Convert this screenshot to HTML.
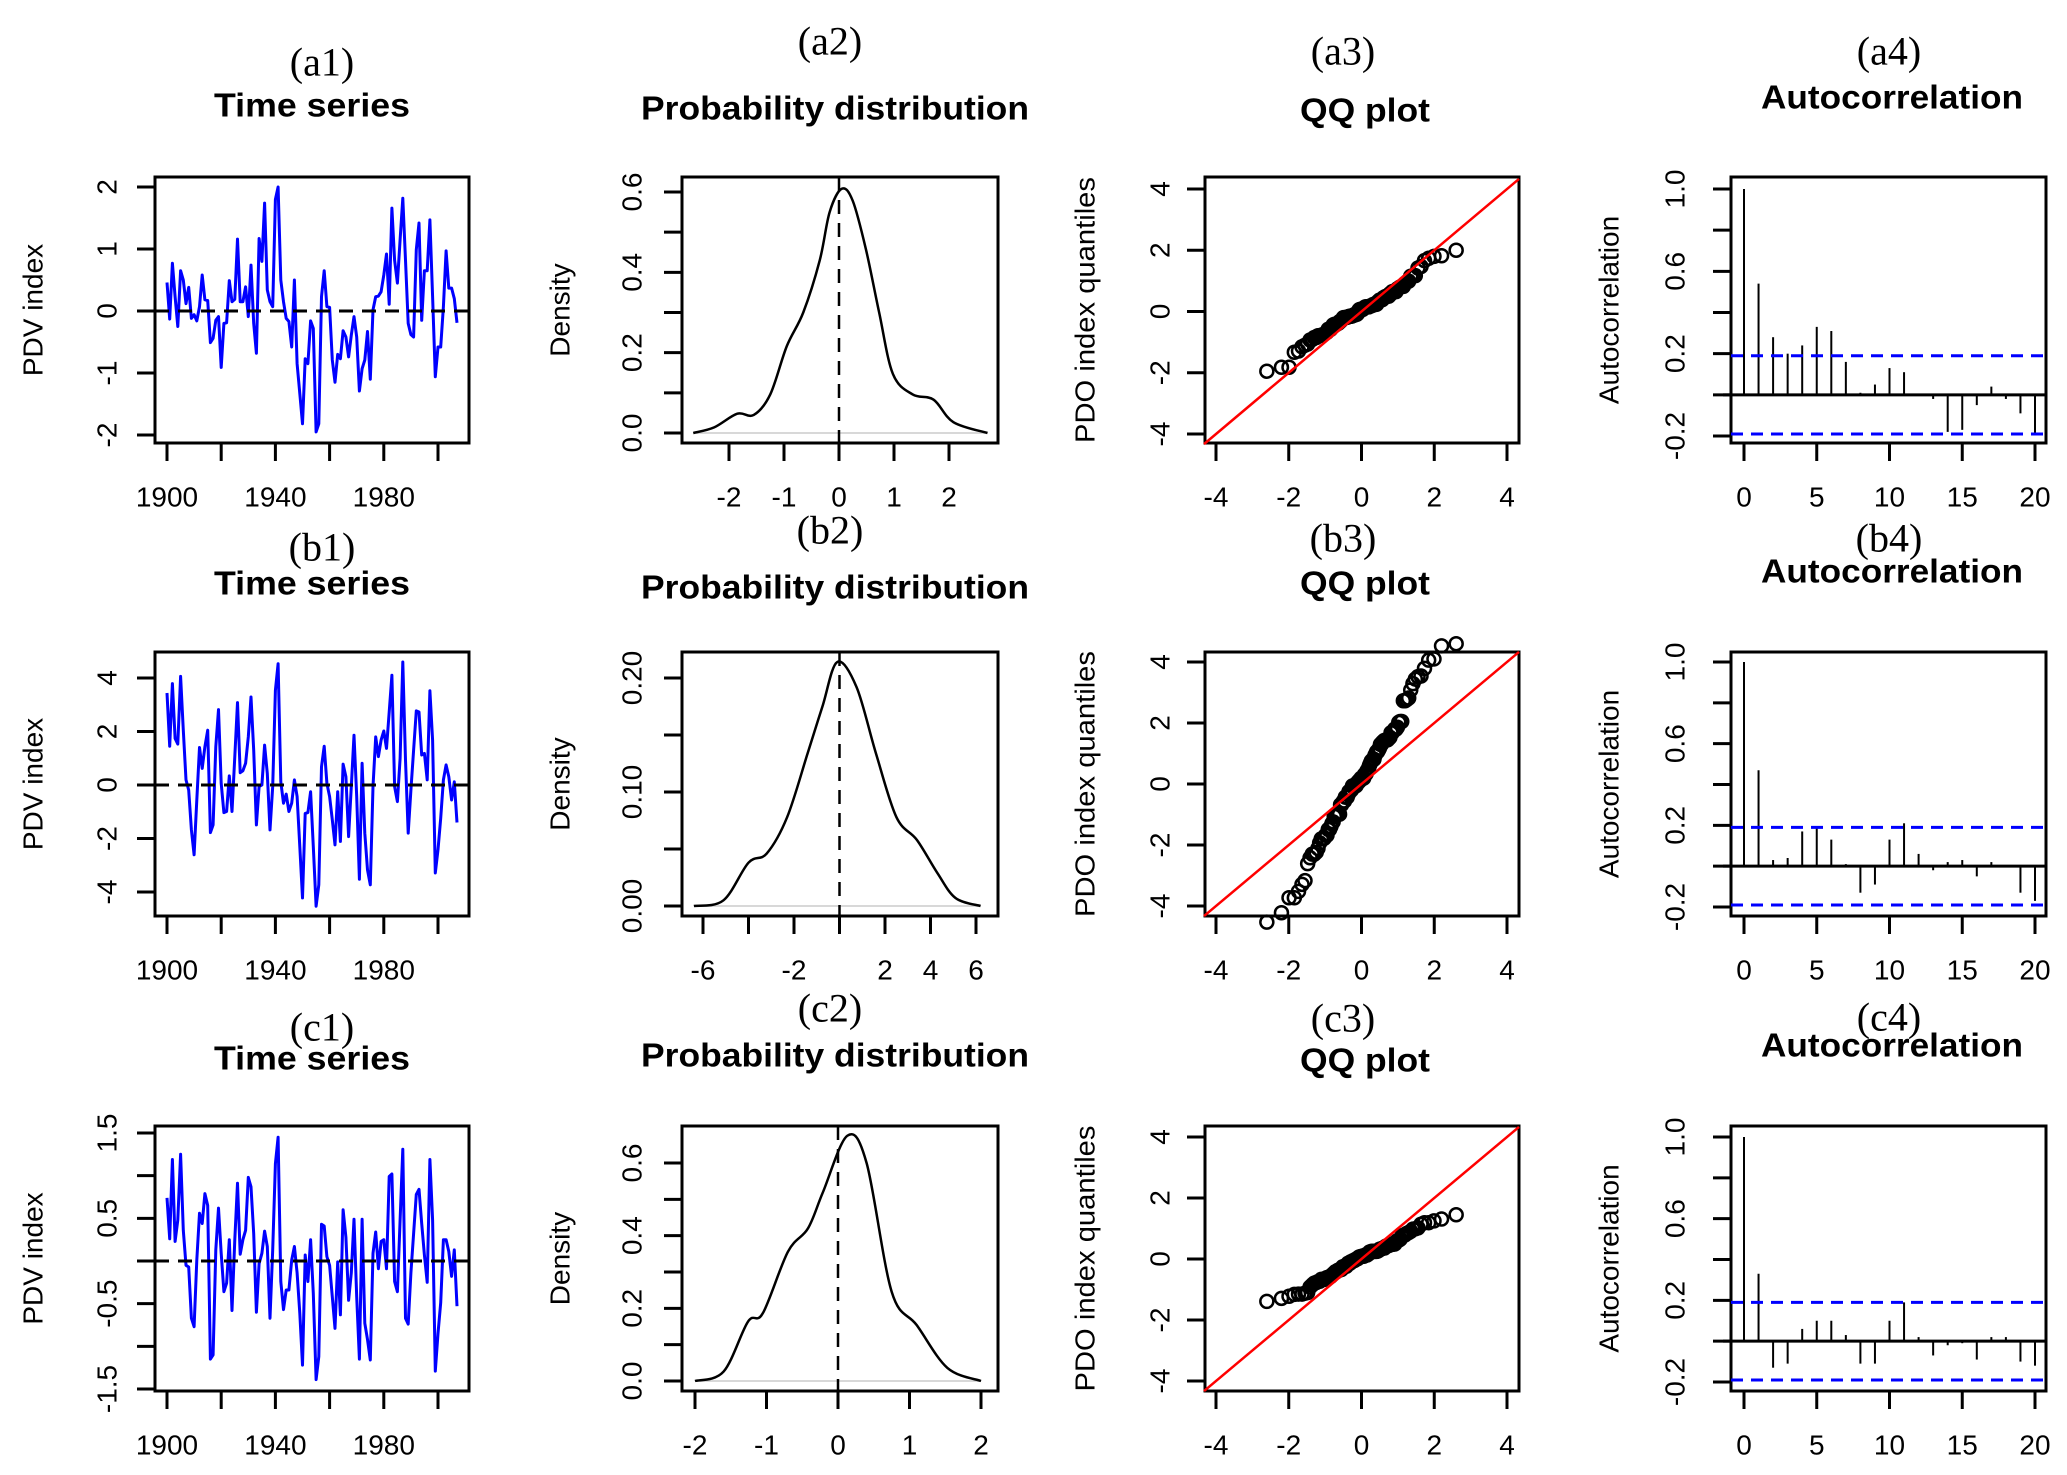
<!DOCTYPE html>
<html><head><meta charset="utf-8"><title>PDV index diagnostics</title>
<style>
html,body{margin:0;padding:0;background:#fff;}
svg{display:block;}
text{font-family:"Liberation Sans",Arial,sans-serif;fill:#000;}
.ser{font-family:"Liberation Serif","Times New Roman",serif;}
</style></head>
<body>
<svg id="fig" xmlns="http://www.w3.org/2000/svg" width="2067" height="1475" viewBox="0 0 2067 1475"></svg>
<script>
// ---------- data ----------
const startYear = 1900;
const seriesA = [0.46,-0.13,0.77,0.23,-0.25,0.65,0.50,0.12,0.38,-0.12,
-0.06,-0.16,0.07,0.58,0.18,0.17,-0.51,-0.44,-0.15,-0.09,
-0.91,-0.20,-0.19,0.49,0.15,0.19,1.16,0.15,0.15,0.39,
-0.09,0.74,-0.20,-0.68,1.17,0.80,1.74,0.34,0.15,0.07,
1.80,2.00,0.50,0.15,-0.12,-0.17,-0.58,0.50,-0.85,-1.33,
-1.82,-0.77,-0.85,-0.16,-0.28,-1.95,-1.82,0.23,0.65,0.07,
0.06,-0.79,-1.15,-0.70,-0.77,-0.32,-0.42,-0.74,-0.39,-0.09,
-0.42,-1.29,-0.93,-0.79,-0.33,-1.10,0.02,0.23,0.24,0.31,
0.58,0.92,0.11,1.66,0.82,0.45,1.15,1.82,0.82,-0.20,
-0.38,-0.42,0.99,1.42,-0.15,0.65,0.65,1.47,0.23,-1.06,
-0.58,-0.58,0.07,0.97,0.37,0.37,0.20,-0.19];
const seriesB = [3.44,1.45,3.79,1.74,1.53,4.06,2.05,0.19,-0.19,-1.68,
-2.61,-0.56,1.40,0.62,1.43,2.05,-1.78,-1.49,1.43,2.82,
0.06,-1.03,-0.99,0.34,-0.99,1.06,3.08,0.46,0.53,0.81,
1.80,3.29,1.30,-1.49,-0.06,0,1.49,0.43,-1.68,-0.06,
3.54,4.53,0.12,-0.68,-0.34,-0.99,-0.68,0.19,-0.43,-2.30,
-4.22,-1.06,-1.03,-0.25,-2.30,-4.53,-3.73,0.68,1.45,0.06,
-0.43,-1.30,-2.24,-0.25,-2.11,0.78,0.31,-1.93,-0.06,1.86,
-0.43,-3.52,0.81,-1.80,-3.17,-3.73,-0.06,1.80,1.06,1.68,
2.02,1.37,2.73,4.10,-0.06,-0.62,0.99,4.60,0.93,-1.80,
-0.19,1.30,2.77,2.73,1.12,1.18,0.19,3.52,1.68,-3.29,
-2.42,-1.24,0.19,0.75,0.31,-0.56,0.12,-1.40];
const seriesC = [0.74,0.26,1.19,0.23,0.48,1.25,0.36,-0.05,-0.07,-0.67,
-0.77,0.01,0.56,0.44,0.79,0.65,-1.15,-1.10,0.13,0.62,
0.09,-0.36,-0.26,0.25,-0.58,0.25,0.91,0.08,0.25,0.36,
0.98,0.87,0.32,-0.60,-0.03,0.09,0.35,0.17,-0.67,0.13,
1.14,1.45,-0.24,-0.57,-0.34,-0.34,0.01,0.17,-0.14,-0.61,
-1.22,0.07,-0.24,0.25,-0.38,-1.39,-1.12,0.43,0.41,0.05,
-0.05,-0.42,-0.79,-0.01,-0.63,0.60,0.28,-0.46,-0.14,0.49,
-0.42,-1.15,0.49,-0.73,-0.92,-1.16,0.09,0.34,-0.09,0.23,
0.25,-0.09,0.99,1.02,-0.24,-0.36,0.48,1.31,-0.67,-0.74,
-0.14,0.32,0.78,0.84,0.44,0.07,-0.25,1.19,0.48,-1.29,
-0.85,-0.49,0.25,0.25,0.11,-0.18,0.13,-0.53];

const densAx = [-2.65,-2.27,-1.85,-1.55,-1.25,-0.95,-0.65,-0.35,-0.17,0.05,0.25,0.49,0.73,0.98,1.34,1.72,2.08,2.7];
const densAy = [0.0,0.014,0.048,0.045,0.096,0.216,0.30,0.43,0.55,0.608,0.578,0.457,0.30,0.147,0.096,0.083,0.027,0.0];
const densBx = [-6.4,-5.1,-4.0,-3.2,-2.3,-1.4,-0.75,-0.1,0.75,1.6,2.5,3.4,4.3,5.1,6.2];
const densBy = [0.0,0.005,0.038,0.046,0.078,0.134,0.175,0.214,0.192,0.134,0.078,0.058,0.029,0.007,0.0];
const densCx = [-2.0,-1.6,-1.26,-1.05,-0.7,-0.42,-0.21,0.13,0.40,0.75,1.1,1.53,2.0];
const densCy = [0.0,0.026,0.163,0.187,0.356,0.42,0.52,0.675,0.60,0.246,0.154,0.036,0.0];

const acfA = [1.0,0.54,0.28,0.20,0.24,0.33,0.31,0.16,0.01,0.05,0.13,0.11,0.005,-0.02,-0.18,-0.17,-0.05,0.04,-0.02,-0.09,-0.19];
const acfB = [1.0,0.47,0.03,0.04,0.17,0.19,0.13,0.01,-0.13,-0.09,0.13,0.21,0.06,-0.02,0.02,0.03,-0.05,0.02,0.0,-0.13,-0.17];
const acfC = [1.0,0.33,-0.13,-0.11,0.06,0.10,0.10,0.03,-0.11,-0.11,0.10,0.19,0.02,-0.07,-0.02,-0.01,-0.09,0.02,0.02,-0.10,-0.12];
const acfBound = 0.19;

// ---------- helpers ----------
const svg = document.getElementById('fig');
const NS = 'http://www.w3.org/2000/svg';
function el(tag, attrs, parent){
  const e = document.createElementNS(NS, tag);
  for (const k in attrs) e.setAttribute(k, attrs[k]);
  (parent||svg).appendChild(e);
  return e;
}
function lin(v0,p0,v1,p1){ return v => p0 + (v - v0) * (p1 - p0) / (v1 - v0); }
function qnorm(p){
  const a=[-39.69683028665376,220.9460984245205,-275.9285104469687,138.3577518672690,-30.66479806614716,2.506628277459239];
  const b=[-54.47609879822406,161.5858368580409,-155.6989798598866,66.80131188771972,-13.28068155288572];
  const c=[-0.007784894002430293,-0.3223964580411365,-2.400758277161838,-2.549732539343734,4.374664141464968,2.938163982698783];
  const d=[0.007784695709041462,0.3224671290700398,2.445134137142996,3.754408661907416];
  const pl=0.02425;
  let q,r;
  if(p<pl){q=Math.sqrt(-2*Math.log(p));return (((((c[0]*q+c[1])*q+c[2])*q+c[3])*q+c[4])*q+c[5])/((((d[0]*q+d[1])*q+d[2])*q+d[3])*q+1);}
  if(p>1-pl){q=Math.sqrt(-2*Math.log(1-p));return -(((((c[0]*q+c[1])*q+c[2])*q+c[3])*q+c[4])*q+c[5])/((((d[0]*q+d[1])*q+d[2])*q+d[3])*q+1);}
  q=p-0.5;r=q*q;
  return (((((a[0]*r+a[1])*r+a[2])*r+a[3])*r+a[4])*r+a[5])*q/(((((b[0]*r+b[1])*r+b[2])*r+b[3])*r+b[4])*r+1);
}

// ---------- layout ----------
const colBox = [[155,469],[682,998],[1205,1519],[1731,2046]];
const rowBox = [[177,443],[652,916],[1126,1391]];
const ytl = [48,50,45,56];      // y tick label offset
const ytitle = [122,122,120,122];

function drawAxes(g, col, row, xs, ys, xticks, xlabels, yticks, ylabels, fmtX, fmtY, ytitleTxt, ytitleLen){
  const [x0,x1]=colBox[col], [y0,y1]=rowBox[row];
  const frame = el('rect',{x:x0,y:y0,width:x1-x0,height:y1-y0,fill:'none',stroke:'#000','stroke-width':3},g);
  
  
  xticks.forEach(v=>{
    const t = el('line',{x1:xs(v),x2:xs(v),y1:y1,y2:y1+18,stroke:'#000','stroke-width':3},g);
    
    
  });
  xlabels.forEach(v=>{
    const t = el('text',{x:xs(v),y:y1+54,'text-anchor':'middle','dominant-baseline':'central','font-size':28},g);
    t.textContent = fmtX(v);
    
    
  });
  yticks.forEach(v=>{
    const t = el('line',{x1:x0-18,x2:x0,y1:ys(v),y2:ys(v),stroke:'#000','stroke-width':3},g);
    
    
  });
  ylabels.forEach(v=>{
    const cx = x0-ytl[col], cy = ys(v);
    const t = el('text',{x:cx,y:cy,'text-anchor':'middle','dominant-baseline':'central','font-size':28,transform:`rotate(-90 ${cx} ${cy})`},g);
    t.textContent = fmtY(v);
    
    
  });
  const cx = x0-ytitle[col], cy=(y0+y1)/2;
  const yt = el('text',{x:cx,y:cy,'text-anchor':'middle','dominant-baseline':'central','font-size':28,transform:`rotate(-90 ${cx} ${cy})`},g);
  if(ytitleLen){ yt.setAttribute('textLength',ytitleLen); yt.setAttribute('lengthAdjust','spacingAndGlyphs'); }
  yt.textContent = ytitleTxt;
  
  
}
function titles(g, tag, tagX, tagY, title, titleX, titleY, len){
  const t1 = el('text',{x:tagX,y:tagY,'text-anchor':'middle','dominant-baseline':'central','font-size':40,class:'ser'},g);
  t1.textContent = tag;
  
  
  const t2 = el('text',{x:titleX,y:titleY,'text-anchor':'middle','dominant-baseline':'central','font-size':33,'font-weight':'bold',textLength:len,lengthAdjust:'spacingAndGlyphs'},g);
  t2.textContent = title;
  
  
}
function rng(a,b,s){const r=[];for(let v=a;v<=b+1e-9;v+=s)r.push(Math.round(v*1000)/1000);return r;}

const series = [seriesA, seriesB, seriesC];
const dens = [[densAx,densAy],[densBx,densBy],[densCx,densCy]];
const acfs = [acfA, acfB, acfC];
const rowTags = ['a','b','c'];

const tsY = [[2,187,-2,435],[4,678,-4,892],[1.5,1133,-1.5,1389]];
const tsTicks = [rng(-2,2,1), rng(-4,4,2), rng(-1.5,1.5,0.5)];
const tsLabels = [rng(-2,2,1), rng(-4,4,2), [-1.5,-0.5,0.5,1.5]];
const dX = [[-2,729,2,949],[-6,703,6,976],[-2,695,2,981]];
const dXticks = [rng(-2,2,1), rng(-6,6,2), rng(-2,2,1)];
const dXlabels = [rng(-2,2,1), [-6,-2,2,4,6], rng(-2,2,1)];
const dY = [[0,433,0.6,192],[0,906,0.2,678],[0,1381,0.6,1163]];
const dYticks = [rng(0,0.6,0.1), rng(0,0.2,0.05), rng(0,0.6,0.1)];
const dYlabels = [[0,0.2,0.4,0.6],[0,0.1,0.2],[0,0.2,0.4,0.6]];
const dFmt = [v=>v.toFixed(1), v=>v.toFixed(2), v=>v.toFixed(1)];
const qY = [[4,189,-4,434],[4,662,-4,906],[4,1137,-4,1381]];
const aY = [[1,189,-0.2,436],[1,662,-0.2,907],[1,1137,-0.2,1382]];

const tagPos = [
  [[322,62],[830,41],[1343,51],[1889,51]],
  [[322,547],[830,530],[1343,538],[1889,538]],
  [[322,1027],[830,1008],[1343,1018],[1889,1017]]];
const titlePos = [
  [105,108,110,97],[583,587,583,571],[1058,1055,1060,1045]];

for(let r=0;r<3;r++){
  const tg = rowTags[r];
  const data = series[r];
  // --- time series ---
  let g = el('g',{});
  
  
  const xs = lin(1900,167,2000,438), ys = lin(...tsY[r]);
  titles(g,`(${tg}1)`,tagPos[r][0][0],tagPos[r][0][1],'Time series',312,titlePos[r][0],196);
  drawAxes(g,0,r,xs,ys,rng(1900,2000,20),[1900,1940,1980],tsTicks[r],tsLabels[r],v=>String(v),v=>String(v),'PDV index',null);
  const pts = data.map((v,i)=>`${xs(startYear+i).toFixed(1)},${ys(v).toFixed(1)}`).join(' ');
  const ln = el('polyline',{points:pts,fill:'none',stroke:'#0000ff','stroke-width':3,'stroke-linejoin':'round'},g);
  
  
  const zl = el('line',{x1:colBox[0][0],x2:colBox[0][1],y1:ys(0),y2:ys(0),stroke:'#000','stroke-width':3,'stroke-dasharray':'14 9'},g);
  
  

  // --- density ---
  g = el('g',{});
  
  
  const dxs = lin(...dX[r]), dys = lin(...dY[r]);
  titles(g,`(${tg}2)`,tagPos[r][1][0],tagPos[r][1][1],'Probability distribution',835,titlePos[r][1],388);
  drawAxes(g,1,r,dxs,dys,dXticks[r],dXlabels[r],dYticks[r],dYlabels[r],v=>String(v),dFmt[r],'Density',null);
  const [dx,dy] = dens[r];
  const base = el('line',{x1:dxs(dx[0]),x2:dxs(dx[dx.length-1]),y1:dys(0),y2:dys(0),stroke:'#d8d8d8','stroke-width':2},g);
  
  
  const P = dx.map((v,i)=>[dxs(v),dys(dy[i])]);
  let dp = `M${P[0][0]},${P[0][1]}`;
  for(let i=0;i<P.length-1;i++){
    const p0=P[Math.max(0,i-1)],p1=P[i],p2=P[i+1],p3=P[Math.min(P.length-1,i+2)];
    const c1=[p1[0]+(p2[0]-p0[0])/6,p1[1]+(p2[1]-p0[1])/6];
    const c2=[p2[0]-(p3[0]-p1[0])/6,p2[1]-(p3[1]-p1[1])/6];
    dp += ` C${c1[0]},${c1[1]} ${c2[0]},${c2[1]} ${p2[0]},${p2[1]}`;
  }
  const dc = el('path',{d:dp,fill:'none',stroke:'#000','stroke-width':2.5},g);
  
  
  const vl = el('line',{x1:dxs(0),x2:dxs(0),y1:rowBox[r][0],y2:rowBox[r][1],stroke:'#000','stroke-width':2.5,'stroke-dasharray':'14 9'},g);
  
  

  // --- QQ ---
  g = el('g',{});
  
  
  const qxs = lin(-4,1216,4,1507), qys = lin(...qY[r]);
  titles(g,`(${tg}3)`,tagPos[r][2][0],tagPos[r][2][1],'QQ plot',1365,titlePos[r][2],130);
  drawAxes(g,2,r,qxs,qys,rng(-4,4,2),rng(-4,4,2),rng(-4,4,2),rng(-4,4,2),v=>String(v),v=>String(v),'PDO index  quantiles',266);
  const sorted = data.slice().sort((a,b)=>a-b);
  const n = sorted.length, aa = n<=10?3/8:0.5;
  const cg = el('g',{},g);
  
  
  sorted.forEach((v,i)=>{
    const tq = qnorm((i+1-aa)/(n+1-2*aa));
    const c = el('circle',{cx:qxs(tq),cy:qys(v),r:6.5,fill:'none',stroke:'#000','stroke-width':2.5},cg);
    
    
  });
  const lo = -4.33, hi = 4.33;
  const rl = el('line',{x1:qxs(lo),y1:qys(lo),x2:qxs(hi),y2:qys(hi),stroke:'#ff0000','stroke-width':2.5},g);
  
  

  // --- ACF ---
  g = el('g',{});
  
  
  const axs = lin(0,1744,20,2035), ays = lin(...aY[r]);
  titles(g,`(${tg}4)`,tagPos[r][3][0],tagPos[r][3][1],'Autocorrelation',1892,titlePos[r][3],262);
  drawAxes(g,3,r,axs,ays,rng(0,20,5),rng(0,20,5),rng(-0.2,1.0,0.2),[-0.2,0.2,0.6,1.0],v=>String(v),v=>v.toFixed(1),'Autocorrelation',null);
  const hz = el('line',{x1:colBox[3][0]-8,x2:colBox[3][1],y1:ays(0),y2:ays(0),stroke:'#000','stroke-width':3},g);
  
  
  acfs[r].forEach((v,i)=>{
    const b = el('line',{x1:axs(i),x2:axs(i),y1:ays(0),y2:ays(v),stroke:'#000','stroke-width':2},g);
    
    
  });
  [acfBound,-acfBound].forEach(v=>{
    const b = el('line',{x1:colBox[3][0],x2:colBox[3][1],y1:ays(v),y2:ays(v),stroke:'#0000ff','stroke-width':3,'stroke-dasharray':'12 8'},g);
    
    
  });
}
</script>
</body></html>
